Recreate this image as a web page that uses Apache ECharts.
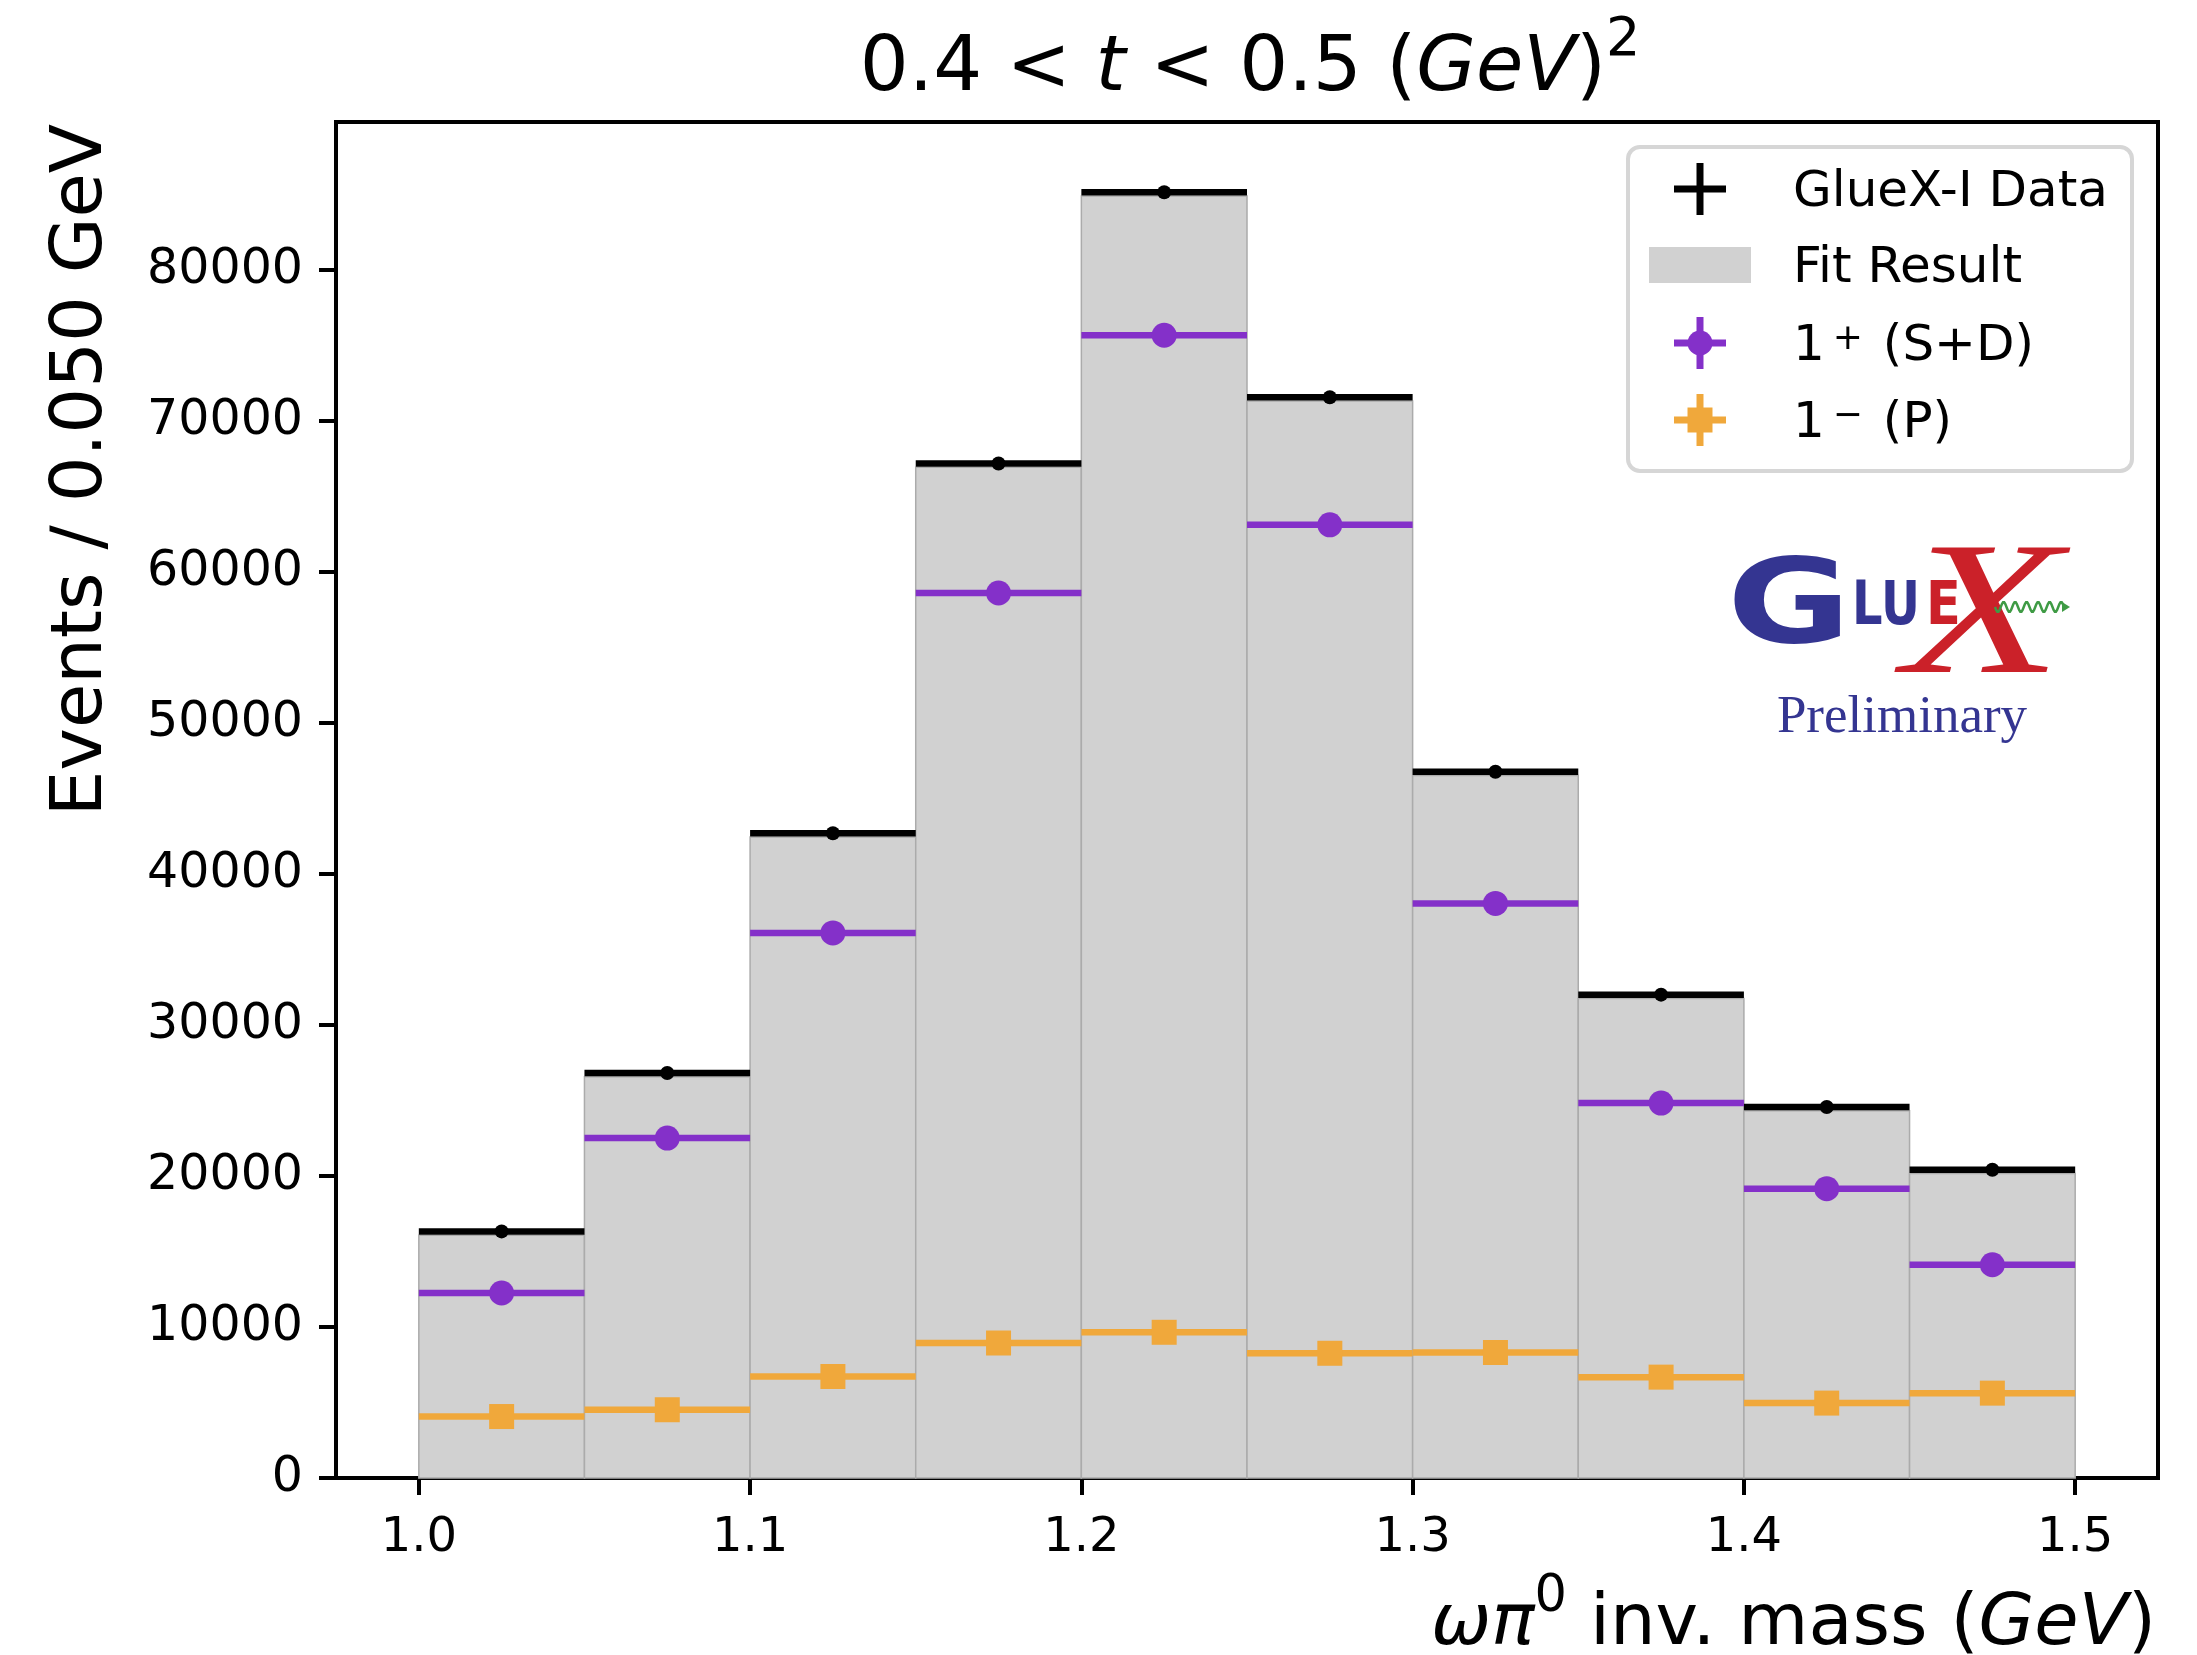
<!DOCTYPE html>
<html>
<head>
<meta charset="utf-8">
<script src="https://cdn.jsdelivr.net/npm/echarts@6/dist/echarts.min.js"></script>
<style>
  html, body { margin: 0; padding: 0; background: #fff; }
  #chart { width: 2197px; height: 1655px; }
</style>
</head>
<body>
<div id="chart"></div>
<script>
// bin edges of the omega pi0 mass histogram (GeV)
const binEdges = [1.0, 1.05, 1.1, 1.15, 1.2, 1.25, 1.3, 1.35, 1.4, 1.45, 1.5]
// events per bin
const dataValues = [16330, 26820, 42700, 67180, 85150, 71570, 46770, 32010, 24570, 20410]
const fitValues = [16080, 26570, 42450, 66930, 84900, 71320, 46520, 31760, 24320, 20160]
const plusValues = [12250, 22510, 36100, 58610, 75680, 63120, 38050, 24830, 19160, 14120]
const minusValues = [4070, 4520, 6720, 8940, 9650, 8260, 8310, 6680, 4960, 5620]
// tick labels
const xTicks = [1.0, 1.1, 1.2, 1.3, 1.4, 1.5]
const yTicks = [0, 10000, 20000, 30000, 40000, 50000, 60000, 70000, 80000]

const FONT = 'DejaVu Sans'
const GREY = '#d1d1d1'
const PURPLE = '#8430c9'
const ORANGE = '#f0a83b'
const NAVY = '#343591'
const RED = '#cb2129'

// [lo, hi, value] per bin
function binRows(values) {
  return values.map((v, i) => [binEdges[i], binEdges[i + 1], v])
}
function centerRows(values) {
  return values.map((v, i) => [(binEdges[i] + binEdges[i + 1]) / 2, v])
}

// horizontal bar spanning the bin (x error bar)
function hLine(color, width) {
  return function (params, api) {
    const p0 = api.coord([api.value(0), api.value(2)])
    const p1 = api.coord([api.value(1), api.value(2)])
    return {
      type: 'line',
      shape: { x1: p0[0], y1: p0[1], x2: p1[0], y2: p1[1] },
      style: { stroke: color, lineWidth: width }
    }
  }
}

function renderFit(params, api) {
  const p0 = api.coord([api.value(0), api.value(2)])
  const p1 = api.coord([api.value(1), 0])
  return {
    type: 'rect',
    shape: { x: p0[0], y: p0[1], width: p1[0] - p0[0], height: p1[1] - p0[1] },
    style: { fill: GREY, stroke: '#ababab', lineWidth: 1.5 }
  }
}

const chart = echarts.init(document.getElementById('chart'), null, { renderer: 'canvas' })

// legend handle: a plus made of two bars
function plusHandle(cx, cy, color) {
  return [
    { type: 'rect', shape: { x: cx - 26, y: cy - 3.5, width: 52, height: 7 }, style: { fill: color } },
    { type: 'rect', shape: { x: cx - 3.5, y: cy - 26, width: 7, height: 52 }, style: { fill: color } }
  ]
}
function legendText(x, y, text, rich) {
  return {
    type: 'text', x: x, y: y,
    style: {
      text: text, fill: '#000', font: '50px "' + FONT + '"',
      verticalAlign: 'middle', align: 'left', rich: rich
    }
  }
}

// wavy photon line of the logo
const wave = []
for (let i = 0; i <= 60; i++) {
  wave.push([1995 + i * 1.15, 607 + 5 * Math.sin(i / 60 * Math.PI * 2 * 6)])
}

const supRich = { sup: { fontSize: 36, fontFamily: FONT, verticalAlign: 'top', lineHeight: 36, padding: [0, 4, 0, 8] } }

const option = {
  animation: false,
  backgroundColor: '#fff',
  grid: {
    left: 336, right: 39, top: 122, bottom: 177,
    show: true, borderColor: '#000', borderWidth: 4, backgroundColor: 'transparent'
  },
  xAxis: {
    type: 'value', min: 0.975, max: 1.525,
    splitLine: { show: false },
    axisLine: { onZero: false, lineStyle: { color: '#000', width: 4 } },
    axisTick: { customValues: xTicks, length: 17, lineStyle: { color: '#000', width: 4 } },
    axisLabel: {
      customValues: xTicks, margin: 37, color: '#000', fontSize: 48, fontFamily: FONT,
      formatter: v => v.toFixed(1)
    }
  },
  yAxis: {
    type: 'value', min: 0, max: 89800,
    splitLine: { show: false },
    axisLine: { show: true, lineStyle: { color: '#000', width: 4 } },
    axisTick: { show: true, customValues: yTicks, length: 17, lineStyle: { color: '#000', width: 4 } },
    axisLabel: {
      customValues: yTicks, margin: 33, color: '#000', fontSize: 49, fontFamily: FONT,
      formatter: v => String(v)
    }
  },
  series: [
    {
      name: 'Fit Result', type: 'custom', renderItem: renderFit,
      encode: { x: [0, 1], y: 2 }, data: binRows(fitValues), z: 1
    },
    {
      name: 'GlueX-I Data', type: 'custom', renderItem: hLine('#000', 6.5),
      encode: { x: [0, 1], y: 2 }, data: binRows(dataValues), z: 2
    },
    {
      name: 'GlueX-I Data', type: 'scatter', symbol: 'circle', symbolSize: 14,
      itemStyle: { color: '#000', opacity: 1 }, data: centerRows(dataValues), z: 3
    },
    {
      name: '1+ (S+D)', type: 'custom', renderItem: hLine(PURPLE, 6.5),
      encode: { x: [0, 1], y: 2 }, data: binRows(plusValues), z: 4
    },
    {
      name: '1+ (S+D)', type: 'scatter', symbol: 'circle', symbolSize: 25,
      itemStyle: { color: PURPLE, opacity: 1 }, data: centerRows(plusValues), z: 5
    },
    {
      name: '1- (P)', type: 'custom', renderItem: hLine(ORANGE, 6.5),
      encode: { x: [0, 1], y: 2 }, data: binRows(minusValues), z: 6
    },
    {
      name: '1- (P)', type: 'scatter', symbol: 'rect', symbolSize: 25,
      itemStyle: { color: ORANGE, opacity: 1 }, data: centerRows(minusValues), z: 7
    }
  ],
  graphic: [
    // title
    {
      type: 'text', x: 1250, y: 70, z: 10,
      style: {
        text: '0.4 < {i|t} < 0.5 ({i|GeV}){sup|2}',
        fill: '#000', font: '77px "' + FONT + '"', lineHeight: 113,
        align: 'center', verticalAlign: 'middle',
        rich: {
          i: { fontSize: 77, fontStyle: 'italic', fontFamily: FONT, lineHeight: 113 },
          sup: { fontSize: 54, fontFamily: FONT, verticalAlign: 'top', lineHeight: 54 }
        }
      }
    },
    // x axis label
    {
      type: 'text', x: 2156, y: 1625, z: 10,
      style: {
        text: '{i|ωπ}{sup|0} inv. mass ({i|GeV})',
        fill: '#000', font: '72px "' + FONT + '"', lineHeight: 106,
        align: 'right', verticalAlign: 'middle',
        rich: {
          i: { fontSize: 72, fontStyle: 'italic', fontFamily: FONT, lineHeight: 106 },
          sup: { fontSize: 51, fontFamily: FONT, verticalAlign: 'top', lineHeight: 51 }
        }
      }
    },
    // y axis label
    {
      type: 'text', x: 82, y: 124, rotation: Math.PI / 2, z: 10,
      style: {
        text: 'Events / 0.050 GeV', fill: '#000', font: '72px "' + FONT + '"',
        align: 'right', verticalAlign: 'middle'
      }
    },
    // legend
    {
      type: 'group', z: 20,
      children: [
        {
          type: 'rect', shape: { x: 1628, y: 147, width: 504, height: 324, r: 12 },
          style: { fill: 'rgba(255,255,255,0.85)', stroke: '#d6d6d6', lineWidth: 4 }
        },
        ...plusHandle(1700, 189, '#000'),
        legendText(1793, 193, 'GlueX-I Data'),
        { type: 'rect', shape: { x: 1649, y: 247, width: 102, height: 36 }, style: { fill: GREY } },
        legendText(1793, 269, 'Fit Result'),
        ...plusHandle(1700, 343, PURPLE),
        { type: 'circle', shape: { cx: 1700, cy: 343, r: 12.5 }, style: { fill: PURPLE } },
        legendText(1793, 347, '1{sup|+} (S+D)', supRich),
        ...plusHandle(1700, 420, ORANGE),
        { type: 'rect', shape: { x: 1687.5, y: 407.5, width: 25, height: 25 }, style: { fill: ORANGE } },
        legendText(1793, 424, '1{sup|−} (P)', supRich)
      ]
    },
    // GlueX logo
    {
      type: 'group', z: 15,
      children: [
        {
          type: 'text', x: 1903, y: 622, scaleX: 1.37, scaleY: 1,
          style: { text: 'X', fill: RED, font: 'italic 190px "Liberation Serif"', align: 'left', verticalAlign: 'middle' }
        },
        {
          type: 'text', x: 1727, y: 611, scaleX: 1.28, scaleY: 1,
          style: { text: 'G', fill: NAVY, font: 'bold 118px "' + FONT + '"', align: 'left', verticalAlign: 'middle' }
        },
        {
          type: 'text', x: 1852, y: 608, scaleX: 0.8, scaleY: 1,
          style: { text: 'LU', fill: NAVY, font: 'bold 60px "' + FONT + '"', align: 'left', verticalAlign: 'middle' }
        },
        {
          type: 'text', x: 1926, y: 608, scaleX: 0.85, scaleY: 1,
          style: { text: 'E', fill: RED, font: 'bold 60px "' + FONT + '"', align: 'left', verticalAlign: 'middle' }
        },
        {
          type: 'polyline', shape: { points: wave },
          style: { stroke: '#3f9b45', lineWidth: 2.5, fill: null }
        },
        {
          type: 'polygon', shape: { points: [[2062, 602], [2070, 607], [2062, 612]] },
          style: { fill: '#3f9b45' }
        },
        {
          type: 'text', x: 1902, y: 718,
          style: { text: 'Preliminary', fill: NAVY, font: '53px "Liberation Serif"', align: 'center', verticalAlign: 'middle' }
        }
      ]
    }
  ]
}

chart.setOption(option)
</script>
</body>
</html>
